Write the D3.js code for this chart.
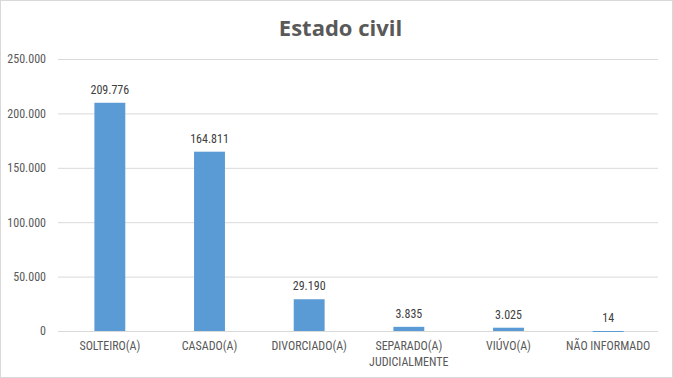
<!DOCTYPE html>
<html><head><meta charset="utf-8">
<script src="https://cdn.jsdelivr.net/npm/d3@7"></script>
<style>body{margin:0;background:#fff;} svg{display:block;}</style>
</head><body>
<script>
const categories = ["SOLTEIRO(A)", "CASADO(A)", "DIVORCIADO(A)", "SEPARADO(A) JUDICIALMENTE", "VIÚVO(A)", "NÃO INFORMADO"];
const values = [209776, 164811, 29190, 3835, 3025, 14];
const tickValues = [0, 50000, 100000, 150000, 200000, 250000];
const title = "Estado civil";

const W = 673, H = 378;
const font = "'Liberation Sans Narrow', 'Roboto Condensed', 'Liberation Sans', sans-serif";
const svg = d3.select("body").append("svg").attr("width", W).attr("height", H);
svg.append("rect").attr("x", 0.5).attr("y", 0.5).attr("width", W - 1).attr("height", H - 1)
  .attr("fill", "#fff").attr("stroke", "#d9d9d9");

const m = {left: 58, right: 15, top: 59, bottom: 47};
const x = d3.scaleBand().domain(categories).range([60, 658]).paddingInner(0.69).paddingOuter(0.345);
const y = d3.scaleLinear().domain([0, 250000]).range([H - m.bottom, m.top]);
const fmt = v => d3.format(",")(v).replace(/,/g, ".");

svg.append("text").attr("x", W / 2 + 4).attr("y", 36).attr("text-anchor", "middle")
  .attr("font-family", "'Open Sans', sans-serif").attr("font-weight", "bold").attr("font-size", 22)
  .attr("fill", "#595959").text(title);

const yAxis = d3.axisLeft(y).tickValues(tickValues).tickSize(-(W - m.left - m.right)).tickFormat(fmt);
const gy = svg.append("g").attr("transform", `translate(${m.left},0)`).call(yAxis);
gy.select(".domain").remove();
gy.selectAll(".tick line").attr("stroke", "#d9d9d9");
gy.selectAll(".tick text").attr("x", -12).attr("fill", "#595959")
  .attr("font-family", font).attr("font-size", 12);

svg.selectAll("rect.bar").data(values).enter().append("rect").attr("class", "bar")
  .attr("x", (d, i) => x(categories[i])).attr("width", x.bandwidth())
  .attr("y", d => y(d)).attr("height", d => Math.max(y(0) - y(d), 1))
  .attr("fill", "#5B9BD5");

svg.selectAll("text.lbl").data(values).enter().append("text").attr("class", "lbl")
  .attr("x", (d, i) => x(categories[i]) + x.bandwidth() / 2).attr("y", d => y(d) - 9)
  .attr("text-anchor", "middle").attr("font-family", font).attr("font-size", 12)
  .attr("fill", "#404040").text(d => fmt(d));

const xAxis = d3.axisBottom(x).tickSize(0);
const gx = svg.append("g").attr("transform", `translate(0,${y(0)})`).call(xAxis);
gx.select(".domain").remove();
gx.selectAll(".tick text").attr("fill", "#595959").attr("font-family", font).attr("font-size", 12)
  .each(function(d) {
    const t = d3.select(this);
    const words = d === "SEPARADO(A) JUDICIALMENTE" ? ["SEPARADO(A)", "JUDICIALMENTE"] : [d];
    t.text(null);
    words.forEach((w, i) => t.append("tspan").attr("x", 0).attr("dy", i === 0 ? "1.55em" : "1.35em").text(w));
  }).attr("dy", null).attr("y", 0);
</script>
</body></html>
